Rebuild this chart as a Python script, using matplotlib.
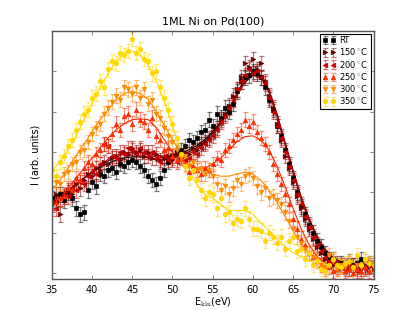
import numpy as np
import matplotlib

matplotlib.use("Agg")
import matplotlib.pyplot as plt  # noqa: E402
from matplotlib.colors import to_rgba  # noqa: E402

# --------------------------------------------------------------------------- #
# Données (intensité en unités arbitraires)
# --------------------------------------------------------------------------- #
e_data = np.arange(35.0, 75.01, 0.5)
e_fit = np.arange(35.0, 75.01, 1.0)

labels = ["RT", "150$^\\circ$C", "200$^\\circ$C", "250$^\\circ$C", "300$^\\circ$C", "350$^\\circ$C"]

i_rt = [1.85, 1.75, 1.95, 1.8, 2.0, 1.85, 1.6, 1.45, 1.5, 2.05,
        2.25, 2.15, 2.45, 2.4, 2.55, 2.6, 2.5, 2.7, 2.65, 2.75,
        2.8, 2.75, 2.65, 2.55, 2.4, 2.3, 2.2, 2.35, 2.55, 2.75,
        2.9, 3.0, 3.05, 3.15, 3.3, 3.25, 3.35, 3.5, 3.55, 3.8,
        3.65, 3.95, 3.85, 4.1, 4.0, 4.2, 4.5, 4.75, 4.85, 4.9,
        5.0, 4.95, 4.85, 4.6, 4.3, 4.05, 3.65, 3.4, 3.05, 2.7,
        2.35, 2.0, 1.65, 1.45, 1.2, 1.0, 0.8, 0.65, 0.5, 0.35,
        0.35, 0.2, 0.25, 0.15, 0.3, 0.2, 0.25, 0.35, 0.15, 0.25,
        0.2]
i_150 = [1.7, 1.95, 1.45, 1.9, 2.05, 1.95, 2.2, 2.1, 2.3, 2.45,
         2.4, 2.6, 2.55, 2.75, 2.7, 2.85, 2.9, 2.8, 3.0, 2.95,
         3.1, 3.0, 3.05, 2.9, 3.0, 2.85, 2.95, 2.8, 2.85, 2.9,
         2.8, 2.95, 2.85, 3.0, 2.95, 3.1, 3.05, 3.2, 3.25, 3.35,
         3.5, 3.6, 3.8, 3.95, 4.15, 4.4, 4.55, 4.85, 5.2, 5.1,
         5.3, 5.05, 5.2, 4.75, 4.4, 4.1, 3.7, 3.3, 2.9, 2.6,
         2.25, 1.9, 1.6, 1.35, 1.1, 0.85, 0.65, 0.5, 0.35, 0.3,
         0.2, 0.25, 0.15, 0.2, 0.1, 0.2, 0.15, 0.1, 0.2, 0.15,
         0.1]
i_200 = [1.75, 1.6, 1.85, 1.95, 1.9, 2.1, 2.05, 2.25, 2.2, 2.4,
         2.5, 2.45, 2.7, 3.2, 3.15, 2.9, 2.85, 3.0, 2.95, 3.1,
         3.05, 2.95, 3.1, 3.0, 2.9, 3.0, 2.85, 2.75, 2.9, 2.8,
         2.85, 2.75, 2.9, 2.8, 2.85, 3.0, 2.95, 3.1, 3.2, 3.3,
         3.4, 3.55, 3.75, 3.9, 4.1, 4.3, 4.55, 4.75, 4.9, 5.05,
         4.95, 5.0, 4.85, 4.7, 4.35, 4.0, 3.65, 3.35, 3.0, 2.65,
         2.3, 1.95, 1.7, 1.4, 1.15, 0.9, 0.7, 0.55, 0.4, 0.3,
         0.25, 0.15, 0.2, 0.1, 0.2, 0.15, 0.05, 0.15, 0.1, 0.2,
         0.15]
i_250 = [1.6, 1.75, 1.85, 1.9, 2.1, 2.05, 2.35, 2.3, 2.6, 2.75,
         2.7, 2.95, 3.05, 3.2, 3.15, 3.45, 3.7, 3.55, 3.9, 3.95,
         3.7, 4.05, 3.8, 3.75, 3.55, 3.85, 3.4, 3.3, 3.05, 3.1,
         2.9, 2.8, 2.85, 2.7, 2.5, 2.65, 2.55, 2.45, 2.6, 2.55,
         2.7, 2.85, 2.8, 3.05, 3.15, 3.3, 3.45, 3.55, 3.8, 3.65,
         3.75, 3.5, 3.35, 3.2, 3.0, 2.7, 2.45, 2.2, 1.95, 1.7,
         1.35, 1.1, 0.85, 0.7, 0.5, 0.4, 0.3, 0.2, 0.1, 0.15,
         0.05, 0.1, 0.2, 0.05, 0.1, 0.0, 0.1, 0.05, 0.15, 0.05,
         0.1]
i_300 = [2.1, 2.25, 2.2, 2.45, 2.5, 2.7, 2.75, 3.0, 3.05, 3.25,
         3.45, 3.6, 3.7, 3.95, 4.1, 4.25, 4.4, 4.3, 4.6, 4.55,
         4.45, 4.6, 4.35, 4.55, 4.2, 4.3, 3.95, 3.85, 3.6, 3.4,
         3.25, 3.05, 2.85, 2.9, 2.65, 2.75, 2.55, 2.6, 2.45, 2.55,
         2.4, 2.2, 2.05, 2.15, 1.95, 2.1, 2.3, 2.2, 2.4, 2.45,
         2.35, 2.15, 2.0, 2.1, 1.85, 1.9, 1.8, 1.7, 1.5, 1.3,
         1.1, 0.9, 0.75, 0.6, 0.5, 0.4, 0.35, 0.2, 0.15, 0.45,
         0.3, 0.1, 0.2, 0.15, 0.25, 0.1, 0.2, 0.15, 0.3, 0.2,
         0.25]
i_350 = [2.55, 2.4, 2.75, 2.9, 3.15, 3.3, 3.55, 3.75, 3.95, 4.05,
         4.35, 4.45, 4.75, 4.6, 5.05, 5.25, 5.2, 5.45, 5.4, 5.5,
         5.8, 5.45, 5.55, 5.3, 5.25, 4.95, 5.0, 4.6, 4.35, 4.05,
         3.7, 3.35, 2.95, 2.65, 2.35, 2.55, 2.3, 2.05, 1.85, 2.0,
         1.95, 1.6, 1.85, 1.45, 1.5, 1.25, 1.35, 1.3, 1.6, 1.35,
         1.1, 1.1, 1.05, 0.8, 1.0, 0.9, 0.75, 0.9, 0.6, 0.8,
         0.9, 0.55, 0.6, 0.35, 0.5, 0.2, 0.3, 0.1, 0.05, 0.2,
         0.35, 0.2, 0.15, 0.25, 0.3, 0.15, 0.45, 0.2, 0.35, 0.25,
         0.2]

fit_rt = [1.85, 1.95, 2.05, 2.2, 2.35, 2.5, 2.62, 2.72, 2.8, 2.85,
          2.88, 2.88, 2.85, 2.8, 2.8, 2.85, 2.95, 3.05, 3.15, 3.3,
          3.5, 3.75, 4.05, 4.4, 4.72, 4.9, 4.85, 4.5, 3.9, 3.2,
          2.5, 1.85, 1.3, 0.85, 0.55, 0.35, 0.25, 0.2, 0.2, 0.2, 0.2]
fit_150 = [1.8, 1.92, 2.05, 2.2, 2.35, 2.5, 2.65, 2.78, 2.88, 2.95,
           3.0, 3.0, 2.97, 2.92, 2.88, 2.88, 2.92, 3.0, 3.1, 3.25,
           3.45, 3.72, 4.05, 4.45, 4.8, 4.98, 4.9, 4.55, 3.95, 3.25,
           2.55, 1.9, 1.35, 0.9, 0.58, 0.38, 0.27, 0.22, 0.2, 0.2, 0.2]
fit_200 = [1.75, 1.88, 2.02, 2.18, 2.35, 2.52, 2.68, 2.82, 2.92, 2.98,
           3.0, 2.98, 2.93, 2.88, 2.85, 2.85, 2.88, 2.95, 3.05, 3.2,
           3.4, 3.68, 4.0, 4.4, 4.75, 4.92, 4.85, 4.5, 3.9, 3.2,
           2.5, 1.85, 1.3, 0.85, 0.55, 0.35, 0.25, 0.2, 0.18, 0.17, 0.17]
fit_250 = [1.65, 1.85, 2.1, 2.35, 2.6, 2.85, 3.1, 3.35, 3.55, 3.7,
           3.8, 3.82, 3.8, 3.6, 3.3, 3.0, 2.8, 2.65, 2.6, 2.6,
           2.7, 2.85, 3.05, 3.25, 3.38, 3.4, 3.3, 3.05, 2.65, 2.15,
           1.6, 1.1, 0.7, 0.4, 0.25, 0.18, 0.15, 0.15, 0.15, 0.15, 0.15]
fit_300 = [2.05, 2.3, 2.6, 2.9, 3.2, 3.5, 3.8, 4.05, 4.3, 4.45,
           4.5, 4.45, 4.3, 4.0, 3.65, 3.3, 3.0, 2.75, 2.6, 2.5,
           2.45, 2.4, 2.4, 2.45, 2.5, 2.45, 2.3, 2.05, 1.75, 1.4,
           1.05, 0.75, 0.5, 0.35, 0.25, 0.2, 0.2, 0.2, 0.2, 0.2, 0.2]
fit_350 = [2.55, 2.75, 3.05, 3.4, 3.8, 4.2, 4.6, 4.95, 5.25, 5.45,
           5.5, 5.4, 5.15, 4.75, 4.25, 3.65, 3.05, 2.55, 2.2, 1.95,
           1.85, 1.7, 1.55, 1.55, 1.55, 1.45, 1.25, 1.05, 0.85, 0.65,
           0.5, 0.4, 0.3, 0.25, 0.22, 0.2, 0.2, 0.2, 0.2, 0.2, 0.2]

err = 0.18

series = [i_rt, i_150, i_200, i_250, i_300, i_350]
fits = [fit_rt, fit_150, fit_200, fit_250, fit_300, fit_350]

# --------------------------------------------------------------------------- #
# Style
# --------------------------------------------------------------------------- #
colors = ["#000000", "#6a0000", "#c40000", "#ff2a00", "#ff8a00", "#ffd800"]
markers = ["s", ">", "<", "^", "v", "o"]

plt.style.use("classic")
plt.rcParams["figure.facecolor"] = "white"
plt.rcParams["savefig.facecolor"] = "white"

fig, ax = plt.subplots(figsize=(4.15, 3.1), dpi=100)

for y, c, m, lab in zip(series, colors, markers, labels):
    ax.errorbar(e_data, y, yerr=err, fmt=m, color=c, mec=c, ms=3.3,
                ecolor=to_rgba(c, 0.5), elinewidth=0.9, capsize=1.8,
                capthick=0.9, label=lab)
for f, c in zip(fits, colors):
    ax.plot(e_fit, f, "-", color=c, lw=0.8)

ax.set_xlim(35, 75)
ax.set_ylim(-0.15, 6.0)
ax.set_xticks(np.arange(35, 76, 5))
ax.set_yticks(np.arange(0, 6, 1))
ax.set_yticklabels([])
ax.tick_params(labelsize=7, length=3, color="#555555")
for sp in ax.spines.values():
    sp.set_color("#555555")

ax.set_title("1ML Ni on Pd(100)", fontsize=8)
ax.set_xlabel("E$_{\\mathrm{kin}}$(eV)", fontsize=7, labelpad=1)
ax.set_ylabel("I (arb. units)", fontsize=7, labelpad=4)

leg = ax.legend(loc="upper right", fontsize=6, numpoints=2, borderpad=0.3,
                labelspacing=0.15, handlelength=1.5, handletextpad=0.5,
                borderaxespad=0.3)
leg.get_frame().set_linewidth(0.8)

fig.savefig("out.png", dpi=100)
